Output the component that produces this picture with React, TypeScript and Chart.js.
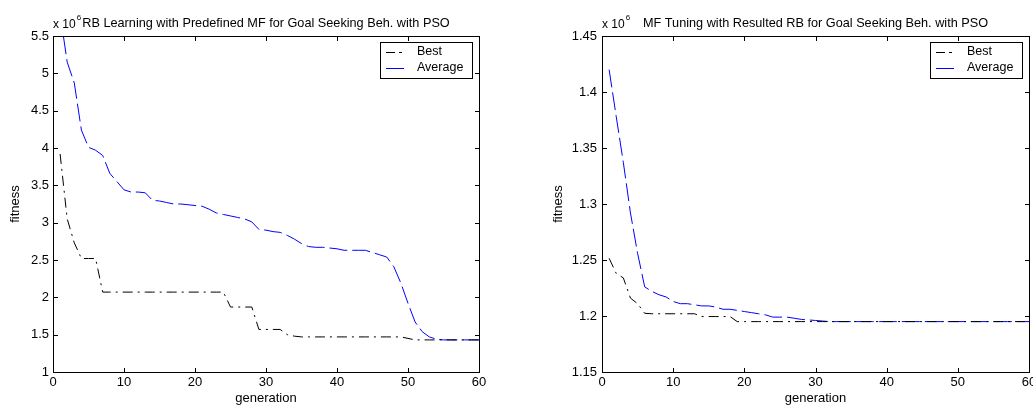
import { useEffect, useRef } from 'react';
import { Chart, registerables } from 'chart.js';

Chart.register(...registerables);

const generations = [
  1, 2, 3, 4, 5, 6, 7, 8, 9, 10, 11, 12, 13, 14, 15, 16, 17, 18, 19, 20,
  21, 22, 23, 24, 25, 26, 27, 28, 29, 30, 31, 32, 33, 34, 35, 36, 37, 38, 39, 40,
  41, 42, 43, 44, 45, 46, 47, 48, 49, 50, 51, 52, 53, 54, 55, 56, 57, 58, 59, 60,
];

// Left chart (x 10^6)
const leftBest = [
  3.92, 3.05, 2.73, 2.52, 2.52, 2.52, 2.07, 2.07, 2.07, 2.07,
  2.07, 2.07, 2.07, 2.07, 2.07, 2.07, 2.07, 2.07, 2.07, 2.07,
  2.07, 2.07, 2.07, 2.07, 1.87, 1.87, 1.87, 1.87, 1.57, 1.57,
  1.57, 1.57, 1.50, 1.48, 1.47, 1.47, 1.47, 1.47, 1.47, 1.47,
  1.47, 1.47, 1.47, 1.47, 1.47, 1.47, 1.47, 1.47, 1.47, 1.45,
  1.43, 1.43, 1.43, 1.43, 1.43, 1.43, 1.43, 1.43, 1.43, 1.43,
];
const leftAverage = [
  5.8, 5.15, 4.87, 4.24, 4.01, 3.97, 3.90, 3.66, 3.55, 3.44,
  3.41, 3.41, 3.40, 3.30, 3.29, 3.27, 3.25, 3.25, 3.24, 3.23,
  3.22, 3.18, 3.13, 3.11, 3.09, 3.07, 3.05, 3.01, 2.91, 2.90,
  2.88, 2.87, 2.83, 2.78, 2.72, 2.68, 2.67, 2.67, 2.66, 2.65,
  2.63, 2.63, 2.63, 2.63, 2.60, 2.57, 2.54, 2.41, 2.19, 1.92,
  1.67, 1.54, 1.47, 1.44, 1.43, 1.43, 1.43, 1.43, 1.43, 1.43,
];

// Right chart (x 10^6)
const rightBest = [
  1.2515, 1.238, 1.234, 1.216, 1.211, 1.2024, 1.202, 1.202, 1.202, 1.202,
  1.202, 1.202, 1.202, 1.1995, 1.1995, 1.1995, 1.1995, 1.1995, 1.195, 1.195,
  1.195, 1.195, 1.195, 1.195, 1.195, 1.195, 1.195, 1.195, 1.195, 1.195,
  1.195, 1.195, 1.195, 1.195, 1.195, 1.195, 1.195, 1.195, 1.195, 1.195,
  1.195, 1.195, 1.195, 1.195, 1.195, 1.195, 1.195, 1.195, 1.195, 1.195,
  1.195, 1.195, 1.195, 1.195, 1.195, 1.195, 1.195, 1.195, 1.195, 1.195,
];
const rightAverage = [
  1.42, 1.378, 1.337, 1.292, 1.256, 1.226, 1.222, 1.219, 1.217, 1.213,
  1.211, 1.211, 1.21, 1.209, 1.209, 1.208, 1.206, 1.206, 1.205, 1.204,
  1.203, 1.202, 1.201, 1.199, 1.199, 1.199, 1.198, 1.197, 1.1965, 1.196,
  1.1955, 1.195, 1.195, 1.195, 1.195, 1.195, 1.195, 1.195, 1.195, 1.195,
  1.195, 1.195, 1.195, 1.195, 1.195, 1.195, 1.195, 1.195, 1.195, 1.195,
  1.195, 1.195, 1.195, 1.195, 1.195, 1.195, 1.195, 1.195, 1.195, 1.195,
];

const xTicks = [0, 10, 20, 30, 40, 50, 60];
const leftYTicks = [1, 1.5, 2, 2.5, 3, 3.5, 4, 4.5, 5, 5.5];
const rightYTicks = [1.15, 1.2, 1.25, 1.3, 1.35, 1.4, 1.45];

const seriesLabels = ['Best', 'Average'];
const leftTitle = 'RB Learning with Predefined MF for Goal Seeking Beh. with PSO';
const rightTitle = 'MF Tuning with Resulted RB for Goal Seeking Beh. with PSO';
const xTitle = 'generation';
const yTitle = 'fitness';
const exponent = '6';

const FONT = "'Liberation Sans', Arial, Helvetica, sans-serif";

type Cfg = {
  width: number;
  best: number[];
  average: number[];
  yTicks: number[];
  title: string;
  yAxisWidth: number;
  yTitlePad: number;
  yTickPad: number;
  padRight: number;
};

function makePlugin(title: string) {
  return {
    id: 'matlabDecor',
    afterDatasetsDraw(chart: any) {
      const { ctx, chartArea: a, scales } = chart;
      const L = Math.round(a.left), R = Math.round(a.right), T = Math.round(a.top), B = Math.round(a.bottom);
      ctx.save();
      ctx.setLineDash([]);
      ctx.strokeStyle = '#000';
      ctx.lineWidth = 1;
      ctx.strokeRect(L + 0.5, T + 0.5, R - L, B - T);
      ctx.beginPath();
      const xs = scales.x, ys = scales.y;
      xs.ticks.forEach((t: any) => {
        const px = Math.round(xs.getPixelForValue(t.value)) + 0.5;
        ctx.moveTo(px, B); ctx.lineTo(px, B - 4);
        ctx.moveTo(px, T); ctx.lineTo(px, T + 5);
      });
      ys.ticks.forEach((t: any) => {
        const py = Math.round(ys.getPixelForValue(t.value)) + 0.5;
        ctx.moveTo(L, py); ctx.lineTo(L + 5, py);
        ctx.moveTo(R, py); ctx.lineTo(R - 4, py);
      });
      ctx.stroke();

      // Title
      ctx.fillStyle = '#000';
      ctx.textBaseline = 'alphabetic';
      ctx.textAlign = 'center';
      ctx.font = `12.7px ${FONT}`;
      ctx.fillText(title, (a.left + a.right) / 2, 27);

      // Exponent label
      ctx.textAlign = 'left';
      ctx.font = `12px ${FONT}`;
      const base = 'x 10';
      ctx.fillText(base, L, 28);
      const w = ctx.measureText(base).width;
      ctx.font = `8px ${FONT}`;
      ctx.fillText(exponent, L + w + 1, 20);

      // Legend
      const bx = R - 99, by = T + 6, bw = 92, bh = 36;
      ctx.fillStyle = '#fff';
      ctx.fillRect(bx, by, bw, bh);
      ctx.strokeStyle = '#000';
      ctx.strokeRect(bx + 0.5, by + 0.5, bw, bh);
      ctx.font = `12.5px ${FONT}`;
      ctx.textBaseline = 'middle';
      chart.data.datasets.forEach((ds: any, i: number) => {
        const ry = by + 10 + i * 16;
        ctx.beginPath();
        ctx.strokeStyle = ds.borderColor;
        ctx.setLineDash(i === 0 ? [9, 4, 3, 4] : []);
        ctx.moveTo(bx + 6, ry + 0.5);
        ctx.lineTo(bx + 24, ry + 0.5);
        ctx.stroke();
        ctx.setLineDash([]);
        ctx.fillStyle = '#000';
        ctx.fillText(ds.label, bx + 37, ry);
      });
      ctx.restore();
    },
  };
}

function fmt(v: number) {
  return String(Number(v.toFixed(2)));
}

function MatlabChart(props: Cfg) {
  const ref = useRef<HTMLCanvasElement | null>(null);
  useEffect(() => {
    if (!ref.current) return;
    const { best, average, yTicks } = props;
    const tickFont = { family: FONT, size: 13 };
    const chart = new Chart(ref.current, {
      type: 'line',
      data: {
        datasets: [
          {
            label: seriesLabels[0],
            data: generations.map((g, i) => ({ x: g, y: best[i] })),
            borderColor: '#000000',
            borderWidth: 1,
            borderDash: [10, 5, 2, 5],
            pointRadius: 0,
            fill: false,
            tension: 0,
          },
          {
            label: seriesLabels[1],
            data: generations.map((g, i) => ({ x: g, y: average[i] })),
            borderColor: '#0000ff',
            borderWidth: 1,
            borderDash: [18, 5],
            pointRadius: 0,
            fill: false,
            tension: 0,
          },
        ],
      },
      options: {
        responsive: false,
        animation: false,
        devicePixelRatio: 1,
        layout: { padding: { top: 36, right: props.padRight, bottom: 0, left: 0 } },
        plugins: {
          legend: { display: false },
          tooltip: { enabled: false },
          title: { display: false },
        },
        scales: {
          x: {
            type: 'linear',
            min: xTicks[0],
            max: xTicks[xTicks.length - 1],
            afterBuildTicks: (s: any) => {
              s.ticks = xTicks.map((v) => ({ value: v }));
            },
            afterFit: (s: any) => {
              s.height = 33;
              s.paddingLeft = 0;
              s.paddingRight = 0;
            },
            grid: { display: false, drawTicks: false },
            border: { display: false },
            ticks: {
              padding: 3,
              font: tickFont,
              color: '#000',
              maxRotation: 0,
              autoSkip: false,
              callback: (v: any) => fmt(Number(v)),
            },
            title: {
              display: true,
              text: xTitle,
              font: { family: FONT, size: 13, lineHeight: 1 },
              padding: 0,
              color: '#000',
            },
          },
          y: {
            type: 'linear',
            min: yTicks[0],
            max: yTicks[yTicks.length - 1],
            afterBuildTicks: (s: any) => {
              s.ticks = yTicks.map((v) => ({ value: v }));
            },
            afterFit: (s: any) => {
              s.width = props.yAxisWidth;
            },
            grid: { display: false, drawTicks: false },
            border: { display: false },
            ticks: {
              padding: props.yTickPad,
              font: tickFont,
              color: '#000',
              autoSkip: false,
              callback: (v: any) => fmt(Number(v)),
            },
            title: {
              display: true,
              text: yTitle,
              font: { family: FONT, size: 13, lineHeight: 1 },
              padding: { top: props.yTitlePad, bottom: 0 },
              color: '#000',
            },
          },
        },
      } as any,
      plugins: [makePlugin(props.title)],
    });
    return () => chart.destroy();
  }, []);
  return <canvas ref={ref} width={props.width} height={405} style={{ display: 'block' }} />;
}

export default function App() {
  return (
    <div style={{ position: 'fixed', left: 0, top: 0, width: 1033, height: 405, background: '#fff', overflow: 'hidden' }}>
      <div style={{ position: 'absolute', left: 0, top: 0 }}>
        <MatlabChart
          width={516}
          best={leftBest}
          average={leftAverage}
          yTicks={leftYTicks}
          title={leftTitle}
          yAxisWidth={53}
          yTitlePad={9}
          yTickPad={4}
          padRight={37}
        />
      </div>
      <div style={{ position: 'absolute', left: 516, top: 0 }}>
        <MatlabChart
          width={517}
          best={rightBest}
          average={rightAverage}
          yTicks={rightYTicks}
          title={rightTitle}
          yAxisWidth={86}
          yTitlePad={36}
          yTickPad={5}
          padRight={4}
        />
      </div>
    </div>
  );
}
